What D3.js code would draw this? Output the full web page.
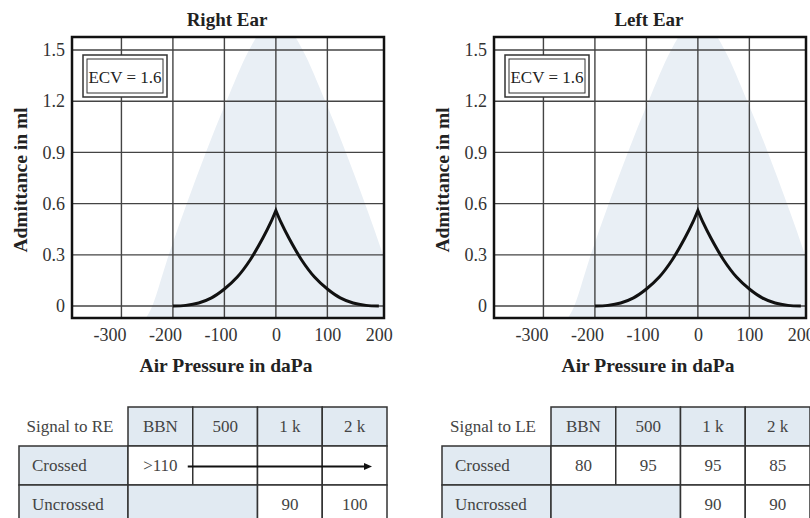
<!DOCTYPE html>
<html>
<head>
<meta charset="utf-8">
<script src="https://cdn.jsdelivr.net/npm/d3@7"></script>
<style>
  body { margin: 0; background: #fff; }
  svg { display: block; }
  text { font-family: "Liberation Serif", "Times New Roman", serif; }
</style>
</head>
<body>
<svg id="chart" width="810" height="518"></svg>
<script>
// tympanogram data (daPa -> ml)
var pressure = [-200, -175, -150, -125, -100, -75, -50, -25, -10, 0, 10, 25, 50, 75, 100, 125, 150, 175, 200];
var admRight = [0, 0.004, 0.018, 0.048, 0.10, 0.17, 0.27, 0.40, 0.49, 0.56, 0.49, 0.40, 0.27, 0.17, 0.10, 0.048, 0.018, 0.004, 0];
var admLeft  = [0, 0.004, 0.018, 0.048, 0.10, 0.17, 0.27, 0.40, 0.49, 0.56, 0.49, 0.40, 0.27, 0.17, 0.10, 0.048, 0.018, 0.004, 0];

// shaded normal region outline (daPa, ml)
var zonePressure = [-252, -240, -208, -173, -136, -96, -52, -26, 0, 26, 52, 96, 136, 173, 208, 240, 252];
var zoneAdm      = [-0.07, 0, 0.3, 0.6, 0.9, 1.2, 1.5, 1.62, 1.66, 1.62, 1.5, 1.2, 0.9, 0.6, 0.3, 0, -0.07];

var xTicks = [-300, -200, -100, 0, 100, 200];
var xGrid = [-300, -200, -100, 0, 100];
var yTicks = [0, 0.3, 0.6, 0.9, 1.2, 1.5];

var ecvRight = "ECV = 1.6";
var ecvLeft = "ECV = 1.6";

// reflex table
var freqHeaders = ["BBN", "500", "1 k", "2 k"];
var crossedRE = [">110", null, null, null];
var uncrossedRE = [null, null, "90", "100"];
var crossedLE = ["80", "95", "95", "85"];
var uncrossedLE = [null, null, "90", "90"];

var svg = d3.select("#chart");
var blue = "#e1eaf2";

function drawEar(x0, title, ecv, adm) {
  var g = svg.append("g");
  var x = d3.scaleLinear().domain([-396, 210]).range([x0, x0 + 312]);
  var y = d3.scaleLinear().domain([-0.07, 1.576]).range([318, 37]);

  g.append("defs").append("clipPath").attr("id", "clip" + x0)
    .append("rect").attr("x", x.range()[0]).attr("y", 37)
    .attr("width", 312).attr("height", 281);

  // normal zone
  var area = d3.line().x(function(d) { return x(d[0]); }).y(function(d) { return y(d[1]); })
    .curve(d3.curveCatmullRom.alpha(0.5));
  g.append("path")
    .attr("clip-path", "url(#clip" + x0 + ")")
    .attr("d", area(d3.zip(zonePressure, zoneAdm)))
    .style("fill", "#e9eff5");

  // grid
  g.selectAll(".hg").data(yTicks).enter().append("line")
    .attr("x1", x.range()[0]).attr("x2", x.range()[1])
    .attr("y1", function(d) { return y(d); }).attr("y2", function(d) { return y(d); })
    .style("stroke", "#444").style("stroke-width", 1.4);
  g.selectAll(".vg").data(xGrid).enter().append("line")
    .attr("y1", 37).attr("y2", 318)
    .attr("x1", function(d) { return x(d); }).attr("x2", function(d) { return x(d); })
    .style("stroke", "#444").style("stroke-width", 1.4);

  // curve, drawn as two smooth halves joined at the peak
  var pts = d3.zip(pressure, adm);
  var line = d3.line().x(function(d) { return x(d[0]); }).y(function(d) { return y(d[1]); })
    .curve(d3.curveCatmullRom.alpha(0.5));
  var left = pts.filter(function(d) { return d[0] <= 0; });
  var right = pts.filter(function(d) { return d[0] >= 0; });
  var dd = line(left) + line(right).replace(/^M[^C]*/, "");
  g.append("path").attr("d", dd)
    .style("fill", "none").style("stroke", "#111").style("stroke-width", 3)
    .style("stroke-linejoin", "miter").style("stroke-miterlimit", 30);

  // frame
  g.append("rect").attr("x", x.range()[0]).attr("y", 37)
    .attr("width", 312).attr("height", 281)
    .style("fill", "none").style("stroke", "#111").style("stroke-width", 2.5);

  // axes
  var ax = g.append("g").attr("transform", "translate(0,318)")
    .call(d3.axisBottom(x).tickValues(xTicks).tickSize(0).tickPadding(10)
      .tickFormat(function(d) { return d < 0 ? "-" + Math.abs(d) : d; }));
  var ay = g.append("g").attr("transform", "translate(" + x.range()[0] + ",0)")
    .call(d3.axisLeft(y).tickValues(yTicks).tickSize(0).tickPadding(7)
      .tickFormat(function(d) { return d === 0 ? "0" : d.toFixed(1); }));
  [ax, ay].forEach(function(a) {
    a.select(".domain").remove();
    a.selectAll("text").style("font-family", "Liberation Serif").style("font-size", "18px").style("fill", "#333");
  });
  ax.selectAll("text").attr("dx", function(d) { return d < 0 ? d / 25 : 0; });

  // titles
  var cx = (x.range()[0] + x.range()[1]) / 2;
  g.append("text").attr("x", cx - 1).attr("y", 26).attr("text-anchor", "middle")
    .style("font-weight", "bold").style("font-size", "19px").style("fill", "#222").text(title);
  g.append("text").attr("x", cx - 2).attr("y", 372).attr("text-anchor", "middle")
    .style("font-weight", "bold").style("font-size", "19.5px").style("fill", "#222").text("Air Pressure in daPa");
  g.append("text").attr("transform", "translate(" + (x0 - 45) + ",180) rotate(-90)")
    .attr("text-anchor", "middle")
    .style("font-weight", "bold").style("font-size", "19.5px").style("fill", "#222").text("Admittance in ml");

  // ECV box
  var bx = x0 + 11, by = 55;
  g.append("rect").attr("x", bx).attr("y", by).attr("width", 84).attr("height", 42)
    .style("fill", "#fff").style("stroke", "#333").style("stroke-width", 1.5);
  g.append("rect").attr("x", bx + 4).attr("y", by + 4).attr("width", 76).attr("height", 34)
    .style("fill", "none").style("stroke", "#333").style("stroke-width", 1);
  g.append("text").attr("x", bx + 42).attr("y", by + 28).attr("text-anchor", "middle")
    .style("font-size", "17px").style("fill", "#222").text(ecv);
}

function drawTable(x0, label, crossed, uncrossed) {
  var g = svg.append("g");
  var colX = d3.scaleBand().domain(d3.range(freqHeaders.length)).range([x0 + 109, x0 + 368]);
  var rowY = [407, 446, 485, 524];
  var font = function(s) {
    return s.style("font-size", "17px").style("fill", "#444");
  };

  g.append("text").attr("x", x0 + 51).attr("y", 432).attr("text-anchor", "middle").call(font).text(label);

  // header
  freqHeaders.forEach(function(h, i) {
    g.append("rect").attr("x", colX(i)).attr("y", rowY[0]).attr("width", colX.bandwidth()).attr("height", rowY[1] - rowY[0])
      .style("fill", blue).style("stroke", "#333").style("stroke-width", 1.5);
    g.append("text").attr("x", colX(i) + colX.bandwidth() / 2).attr("y", 432)
      .attr("text-anchor", "middle").call(font).text(h);
  });

  var rows = [["Crossed", crossed], ["Uncrossed", uncrossed]];
  rows.forEach(function(r, ri) {
    var y0 = rowY[ri + 1], h = rowY[ri + 2] - y0;
    var ty = y0 + 25;
    g.append("rect").attr("x", x0).attr("y", y0).attr("width", 109).attr("height", h)
      .style("fill", blue).style("stroke", "#333").style("stroke-width", 1.5);
    g.append("text").attr("x", x0 + 13).attr("y", ty).call(font).text(r[0]);

    var vals = r[1];
    // leading empty cells are merged and shaded
    var lead = 0;
    while (lead < vals.length && vals[lead] == null) lead++;
    if (lead > 0) {
      g.append("rect").attr("x", colX(0)).attr("y", y0).attr("width", colX.bandwidth() * lead).attr("height", h)
        .style("fill", blue).style("stroke", "#333").style("stroke-width", 1.5);
    }
    for (var i = lead; i < vals.length; i++) {
      g.append("rect").attr("x", colX(i)).attr("y", y0).attr("width", colX.bandwidth()).attr("height", h)
        .style("fill", "#fff").style("stroke", "#333").style("stroke-width", 1.5);
      if (vals[i] != null) {
        g.append("text").attr("x", colX(i) + colX.bandwidth() / 2).attr("y", ty)
          .attr("text-anchor", "middle").call(font).text(vals[i]);
      }
    }
    // trailing empty cells after a value: arrow carries the value across
    if (lead === 0 && vals.length > 1 && vals[1] == null) {
      var ay = y0 + h / 2 + 1;
      var xa = colX(0) + colX.bandwidth() - 5, xb = colX(vals.length - 1) + colX.bandwidth() - 15;
      g.append("line").attr("x1", xa).attr("x2", xb - 6).attr("y1", ay).attr("y2", ay)
        .style("stroke", "#111").style("stroke-width", 2);
      g.append("path").attr("d", "M" + xb + "," + ay + "L" + (xb - 8) + "," + (ay - 3.5) + "L" + (xb - 8) + "," + (ay + 3.5) + "Z")
        .style("fill", "#111");
    }
  });
}

drawEar(72, "Right Ear", ecvRight, admRight);
drawEar(494, "Left Ear", ecvLeft, admLeft);
drawTable(19, "Signal to RE", crossedRE, uncrossedRE);
drawTable(442, "Signal to LE", crossedLE, uncrossedLE);
</script>
</body>
</html>
